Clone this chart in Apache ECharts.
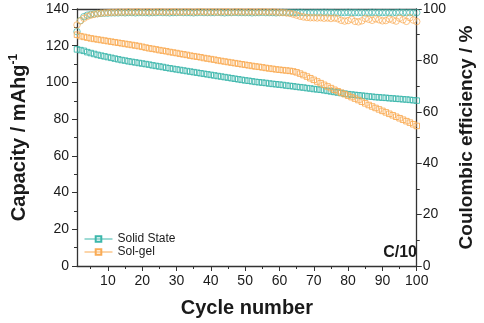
<!DOCTYPE html>
<html>
<head>
<meta charset="utf-8">
<script src="https://cdn.jsdelivr.net/npm/echarts@6/dist/echarts.min.js"></script>
<style>html,body{margin:0;padding:0;background:#fff}#c{width:484px;height:323px}</style>
</head>
<body>
<div id="c"></div>
<script>
const xTicks = [10,20,30,40,50,60,70,80,90,100];
const xMinorTicks = [5,15,25,35,45,55,65,75,85,95];
const capSolidState = [
118,117.6,117.2,116.5,116,115.5,115,114.6,114.2,113.8,
113.4,113,112.6,112.2,111.9,111.5,111.2,110.9,110.6,110.3,
110,109.7,109.3,109,108.7,108.4,108,107.7,107.4,107.1,
106.8,106.5,106.2,105.9,105.6,105.3,105,104.7,104.4,104.1,
103.8,103.5,103.2,102.9,102.6,102.3,102,101.7,101.4,101.1,
100.9,100.6,100.3,100.1,99.9,99.7,99.4,99.2,99,98.8,
98.6,98.3,98.1,97.9,97.6,97.4,97.2,96.9,96.7,96.4,
96.2,96,95.7,95.4,95.1,94.8,94.5,94.2,93.9,93.6,
93.4,93.2,93,92.8,92.6,92.4,92.2,92,91.9,91.7,
91.6,91.4,91.3,91.1,91,90.8,90.7,90.5,90.3,90.1];
const capSolGel = [
126,125.2,124.8,124.4,124,123.7,123.4,123.1,122.8,122.5,
122.2,121.9,121.6,121.3,121,120.7,120.4,120.1,119.8,119.4,
119,118.6,118.3,118,117.6,117.3,117,116.6,116.3,116,
115.6,115.3,115,114.6,114.3,114,113.7,113.3,113,112.7,
112.4,112,111.7,111.4,111.1,110.8,110.5,110.2,109.9,109.6,
109.3,109,108.7,108.5,108.2,107.9,107.6,107.4,107.1,106.9,
106.7,106.5,106.3,106,105.5,104.8,104,103.2,102.3,101.4,
100.5,99.6,98.7,97.8,96.9,96,95.2,94.4,93.6,92.8,
92,91.2,90.4,89.5,88.6,87.7,86.9,86.1,85.3,84.5,
83.7,82.9,82.1,81.3,80.5,79.7,78.9,78.1,77.2,76.3];
const ceSolidState = [
91.2,95.5,97.0,97.6,97.9,98.1,98.2,98.3,98.4,98.4,
98.5,98.5,98.5,98.6,98.5,98.6,98.6,98.5,98.6,98.6,
98.6,98.5,98.6,98.6,98.7,98.6,98.6,98.5,98.6,98.6,
98.7,98.6,98.6,98.6,98.5,98.6,98.7,98.6,98.6,98.6,
98.6,98.7,98.6,98.5,98.6,98.6,98.7,98.6,98.6,98.6,
98.6,98.5,98.6,98.6,98.7,98.6,98.6,98.6,98.5,98.6,
98.7,98.6,98.6,98.6,98.6,98.7,98.6,98.5,98.6,98.6,
98.6,98.6,98.7,98.6,98.6,98.6,98.5,98.6,98.6,98.7,
98.6,98.6,98.6,98.6,98.5,98.6,98.7,98.6,98.6,98.6,
98.6,98.6,98.5,98.6,98.7,98.6,98.6,98.6,98.5,98.6];
const ceSolGel = [
93.8,95.4,96.4,97.1,97.6,97.9,98.2,98.4,98.5,98.6,
98.7,98.7,98.8,98.8,98.8,98.9,98.8,98.9,98.9,98.8,
98.9,98.9,98.8,98.9,98.9,98.9,98.8,98.9,98.9,98.9,
98.8,98.9,98.9,98.9,98.8,98.9,98.9,98.9,98.8,98.9,
98.9,98.8,98.9,98.9,98.9,98.8,98.9,98.9,98.9,98.8,
98.9,98.9,98.8,98.9,98.9,98.9,98.8,98.9,98.8,98.7,
98.6,98.5,98.3,98.0,97.6,97.2,96.9,96.7,96.6,96.6,
96.5,96.6,96.4,96.5,96.3,96.5,96.2,95.6,95.3,95.5,
96.0,95.2,95.0,95.4,96.3,96.0,95.6,96.2,95.8,95.4,
95.5,96.1,95.7,95.3,96.4,95.8,95.2,96.6,95.7,95.1];
const cycles = capSolidState.map((_, i) => i + 1);

const TEAL = '#3cb7ab';
const ORANGE = '#f9ab55';
const AX = '#333';
const TXT = '#1a1a1a';
const FONT = 'Arial, "Liberation Sans", sans-serif';

function pairs(vals){ return vals.map((v,i)=>[cycles[i], v]); }

const chart = echarts.init(document.getElementById('c'), null, {renderer:'canvas'});
chart.setOption({
  animation: false,
  backgroundColor: '#fff',
  grid: {left: 69, right: 60, top: 9, bottom: 56},
  legend: {
    data: ['Solid State', 'Sol-gel'],
    orient: 'vertical', left: 79, top: 228,
    itemWidth: 28, itemHeight: 7, itemGap: 1,
    textStyle: {fontFamily: FONT, fontSize: 12, color: TXT},
    lineStyle: {opacity: 1, width: 1},
    selectedMode: false
  },
  xAxis: [{
    type: 'value', min: 1, max: 100,
    name: 'Cycle number', nameLocation: 'middle', nameGap: 32,
    nameTextStyle: {fontFamily: FONT, fontSize: 20, fontWeight: 'bold', color: TXT},
    axisLine: {show: true, lineStyle: {color: AX, width: 1.3}},
    axisTick: {show: true, length: 5, lineStyle: {color: AX}, customValues: xTicks},
    axisLabel: {customValues: xTicks, margin: 8, fontFamily: FONT, fontSize: 14, color: TXT},
    splitLine: {show: false}
  }, {
    type: 'value', min: 1, max: 100, position: 'bottom',
    axisLine: {show: false},
    axisTick: {show: true, length: 3, lineStyle: {color: AX}, customValues: xMinorTicks},
    axisLabel: {show: false, customValues: xMinorTicks},
    splitLine: {show: false}
  }, {
    type: 'value', min: 1, max: 100, position: 'top',
    axisLine: {show: true, lineStyle: {color: AX, width: 1.3}},
    axisTick: {show: false}, axisLabel: {show: false}, splitLine: {show: false}
  }],
  yAxis: [{
    type: 'value', min: 0, max: 140, interval: 20,
    name: '{a|Capacity / mAhg}{b|-1}', nameLocation: 'middle', nameGap: 47, nameRotate: 90,
    nameTextStyle: {fontFamily: FONT, fontSize: 20, fontWeight: 'bold', color: TXT,
      rich: {a: {fontFamily: FONT, fontSize: 20, fontWeight: 'bold', color: TXT},
             b: {fontFamily: FONT, fontSize: 12, fontWeight: 'bold', color: TXT, verticalAlign: 'top', padding: [0,0,10,0]}}},
    axisLine: {show: true, lineStyle: {color: AX, width: 1.3}},
    axisTick: {show: true, length: 5, lineStyle: {color: AX}},
    minorTick: {show: true, splitNumber: 2, length: 3, lineStyle: {color: AX}},
    axisLabel: {margin: 8, fontFamily: FONT, fontSize: 14, color: TXT},
    splitLine: {show: false}
  }, {
    type: 'value', min: 0, max: 100, interval: 20, position: 'right',
    name: 'Coulombic efficiency / %', nameLocation: 'middle', nameGap: 28, nameRotate: 90,
    nameTextStyle: {fontFamily: FONT, fontSize: 19, fontWeight: 'bold', color: TXT},
    axisLine: {show: true, lineStyle: {color: AX, width: 1.3}},
    axisTick: {show: true, length: 5, lineStyle: {color: AX}},
    minorTick: {show: true, splitNumber: 2, length: 3, lineStyle: {color: AX}},
    axisLabel: {margin: 6, fontFamily: FONT, fontSize: 14, color: TXT},
    splitLine: {show: false}
  }],
  graphic: [{
    type: 'text', right: 67, top: 245,
    style: {text: 'C/10', font: 'bold 16px ' + FONT, fill: TXT}
  }],
  series: [{
    name: 'Solid State', type: 'line', data: pairs(capSolidState),
    symbol: 'rect', symbolSize: 5.5, showSymbol: true,
    itemStyle: {color: 'rgba(255,255,255,0)', borderColor: TEAL, borderWidth: 0.9},
    lineStyle: {color: TEAL, opacity: 0, width: 1}
  }, {
    name: 'Sol-gel', type: 'line', data: pairs(capSolGel),
    symbol: 'rect', symbolSize: 5.5, showSymbol: true,
    itemStyle: {color: 'rgba(255,255,255,0)', borderColor: ORANGE, borderWidth: 0.9},
    lineStyle: {color: ORANGE, opacity: 0, width: 1}
  }, {
    name: 'CE Solid State', type: 'scatter', yAxisIndex: 1, data: pairs(ceSolidState),
    symbol: 'circle', symbolSize: 6.5,
    itemStyle: {color: 'rgba(255,255,255,0)', borderColor: TEAL, borderWidth: 0.9}
  }, {
    name: 'CE Sol-gel', type: 'scatter', yAxisIndex: 1, data: pairs(ceSolGel),
    symbol: 'circle', symbolSize: 6.5,
    itemStyle: {color: 'rgba(255,255,255,0)', borderColor: ORANGE, borderWidth: 0.9}
  }]
});
</script>
</body>
</html>
